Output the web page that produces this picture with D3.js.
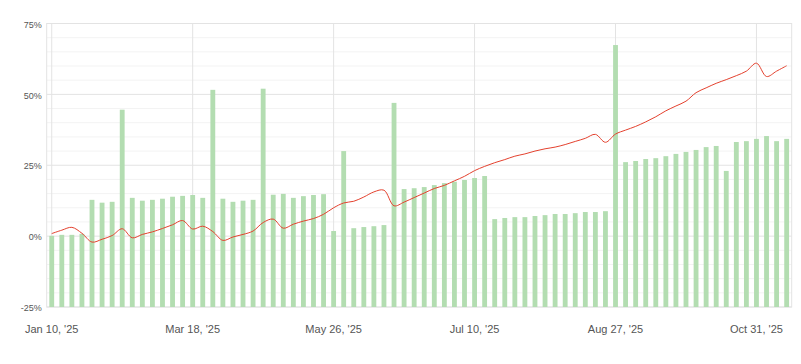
<!DOCTYPE html>
<html>
<head>
<meta charset="utf-8">
<script src="https://cdn.jsdelivr.net/npm/d3@7"></script>
<style>
  body { margin: 0; background: #fff; }
  text { font-family: "Liberation Sans", Arial, sans-serif; }
</style>
</head>
<body>
<svg id="chart"></svg>
<script>
// bar values (%) one per period
const barValues = [0.1, 0.45, 0.45, 0.8, 12.8, 11.8, 12.1, 44.6, 13.5, 12.5,
    12.8, 13.2, 13.9, 14.2, 14.5, 13.5, 51.6, 13.2, 12.1, 12.5,
    12.8, 52.0, 14.6, 14.9, 13.5, 14.1, 14.5, 14.8, 1.8, 30.0,
    2.8, 3.2, 3.5, 3.9, 47.0, 16.6, 16.9, 17.3, 18.0, 18.7,
    19.2, 19.8, 20.5, 21.2, 6.0, 6.4, 6.7, 6.7, 7.1, 7.4,
    7.8, 7.8, 8.1, 8.5, 8.5, 8.8, 67.4, 26.1, 26.5, 27.2,
    27.5, 28.2, 29.0, 29.7, 30.4, 31.4, 31.8, 23.0, 33.2, 33.5,
    34.3, 35.3, 33.5, 34.3];

// cumulative line (%)
const lineValues = [0.9, 2.1, 3.1, 1.0, -2.1, -1.1, 0.2, 2.6, -0.6, 0.6,
    1.5, 2.7, 4.0, 5.5, 2.5, 3.5, 1.6, -1.5, -0.3, 0.6,
    1.8, 4.8, 6.0, 2.8, 4.2, 5.3, 6.2, 7.7, 10.0, 11.7,
    12.3, 13.8, 15.6, 16.2, 10.7, 12.0, 13.6, 15.2, 16.8, 17.9,
    19.5, 21.1, 23.1, 24.6, 25.9, 27.0, 28.2, 29.0, 30.0, 30.8,
    31.4, 32.3, 33.4, 34.5, 35.9, 33.1, 36.0, 37.4, 38.7, 40.3,
    42.1, 44.2, 45.9, 47.6, 50.6, 52.3, 53.9, 55.2, 56.6, 58.2,
    61.0, 56.3, 58.2, 60.1];

const tickIndex = [0, 14, 28, 42, 56, 70];
const tickLabels = ["Jan 10, '25", "Mar 18, '25", "May 26, '25", "Jul 10, '25", "Aug 27, '25", "Oct 31, '25"];
const yTicks = [-25, 0, 25, 50, 75];

const width = 801, height = 364;
const margin = { top: 23.5, right: 9.3, bottom: 57, left: 46.7 };

const svg = d3.select("#chart").attr("width", width).attr("height", height);

const x = d3.scaleBand()
    .domain(d3.range(barValues.length))
    .range([margin.left, width - margin.right])
    .paddingInner(0.52)
    .paddingOuter(0.26);

const y = d3.scaleLinear()
    .domain([-25, 75])
    .range([height - margin.bottom, margin.top]);

const cx = i => x(i) + x.bandwidth() / 2;

// minor grid every 5%
svg.append("g")
    .selectAll("line")
    .data(d3.range(-20, 75, 5).filter(v => v % 25 !== 0))
    .join("line")
    .attr("x1", margin.left).attr("x2", width - margin.right)
    .attr("y1", d => y(d)).attr("y2", d => y(d))
    .attr("stroke", "#f3f3f3");

// major grid
svg.append("g")
    .selectAll("line")
    .data(yTicks)
    .join("line")
    .attr("x1", margin.left).attr("x2", width - margin.right)
    .attr("y1", d => y(d)).attr("y2", d => y(d))
    .attr("stroke", "#e3e3e3");

// vertical grid at labelled ticks
svg.append("g")
    .selectAll("line")
    .data(tickIndex)
    .join("line")
    .attr("x1", d => cx(d)).attr("x2", d => cx(d))
    .attr("y1", margin.top).attr("y2", height - margin.bottom)
    .attr("stroke", "#e3e3e3");

// plot border
svg.append("rect")
    .attr("x", margin.left).attr("y", margin.top)
    .attr("width", width - margin.left - margin.right)
    .attr("height", height - margin.top - margin.bottom)
    .attr("fill", "none")
    .attr("stroke", "#e3e3e3");

// bars
svg.append("g")
    .selectAll("rect")
    .data(barValues)
    .join("rect")
    .attr("x", (d, i) => x(i))
    .attr("width", x.bandwidth())
    .attr("y", d => y(d))
    .attr("height", d => y(-25) - y(d))
    .attr("fill", "#b3ddb1");

// line
const line = d3.line()
    .x((d, i) => cx(i))
    .y(d => y(d))
    .curve(d3.curveCatmullRom.alpha(0.5));

svg.append("path")
    .datum(lineValues)
    .attr("d", line)
    .attr("fill", "none")
    .attr("stroke", "#e4412e")
    .attr("stroke-width", 1);

// y labels
svg.append("g")
    .selectAll("text")
    .data(yTicks)
    .join("text")
    .attr("x", margin.left - 5)
    .attr("y", d => y(d) + 1)
    .attr("dy", "0.35em")
    .attr("text-anchor", "end")
    .style("font-size", "9px")
    .style("fill", "#555")
    .text(d => d + "%");

// x labels
svg.append("g")
    .selectAll("text")
    .data(tickIndex)
    .join("text")
    .attr("x", d => cx(d))
    .attr("y", 329)
    .attr("dy", "0.35em")
    .attr("text-anchor", "middle")
    .style("font-size", "11px")
    .style("fill", "#555")
    .text((d, i) => tickLabels[i]);
</script>
</body>
</html>
